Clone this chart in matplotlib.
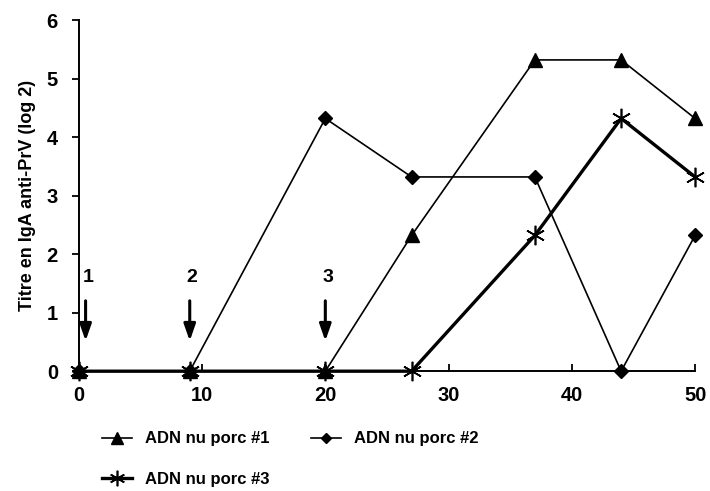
import numpy as np
import matplotlib.pyplot as plt

plt.rcParams['font.family'] = ['Liberation Sans', 'DejaVu Sans']

# Données
jours = [0, 9, 20, 27, 37, 44, 50]
porc1 = [0, 0, 0, 2.32, 5.32, 5.32, 4.32]
porc2 = [0, 0, 4.32, 3.32, 3.32, 0, 2.32]
porc3 = [0, 0, 0, 0, 2.32, 4.32, 3.32]
noms = ['ADN nu porc #1', 'ADN nu porc #2', 'ADN nu porc #3']

# Immunisations (flèches)
immun_x = [0.55, 9, 20]
immun_lab = ['1', '2', '3']

fig = plt.figure(figsize=(7.1, 4.91), dpi=100)
ax = fig.add_axes([0.111, 0.244, 0.868, 0.715])

l1, = ax.plot(jours, porc1, color='black', lw=1.2, marker='^', ms=10, label=noms[0], clip_on=False, zorder=3)
l2, = ax.plot(jours, porc2, color='black', lw=1.2, marker='D', ms=7, label=noms[1], clip_on=False, zorder=3)
l3, = ax.plot(jours, porc3, color='black', lw=2.4, marker=(6, 2, 0), ms=14, mew=1.2, label=noms[2], clip_on=False, zorder=4)

for xi, lab in zip(immun_x, immun_lab):
    ax.annotate('', xy=(xi, 0.47), xytext=(xi, 1.25),
                arrowprops=dict(arrowstyle='-|>,head_width=0.35,head_length=1.0', color='black', lw=2.2))
    ax.text(xi + 0.2, 1.6, lab, ha='center', va='center', fontsize=14, fontweight='bold')

ax.set_xlim(0, 50)
ax.set_ylim(0, 6)
ax.set_xticks(range(0, 51, 10))
ax.set_yticks(range(0, 7))
ax.spines['top'].set_visible(False)
ax.spines['right'].set_visible(False)
ax.spines['left'].set_linewidth(1.4)
ax.spines['bottom'].set_linewidth(1.4)
ax.tick_params(axis='x', direction='in', length=5, width=1.3, labelsize=14.5, pad=11)
ax.tick_params(axis='y', direction='out', length=5, width=1.3, labelsize=14.5, pad=10)
for t in ax.get_xticklabels() + ax.get_yticklabels():
    t.set_fontweight('bold')
ax.set_ylabel('Titre en IgA anti-PrV (log 2)', fontsize=13, fontweight='bold', labelpad=8)

# ordre colonne par colonne : #1, #3 | #2
fig.legend([l1, l3, l2], [noms[0], noms[2], noms[1]], loc='upper left',
           bbox_to_anchor=(0.122, 0.152), ncol=2, frameon=False,
           prop={'weight': 'bold', 'size': 12}, handlelength=1.8, handletextpad=0.8,
           columnspacing=2.5, labelspacing=1.55, markerscale=0.8)

fig.savefig('out.png', dpi=100)
